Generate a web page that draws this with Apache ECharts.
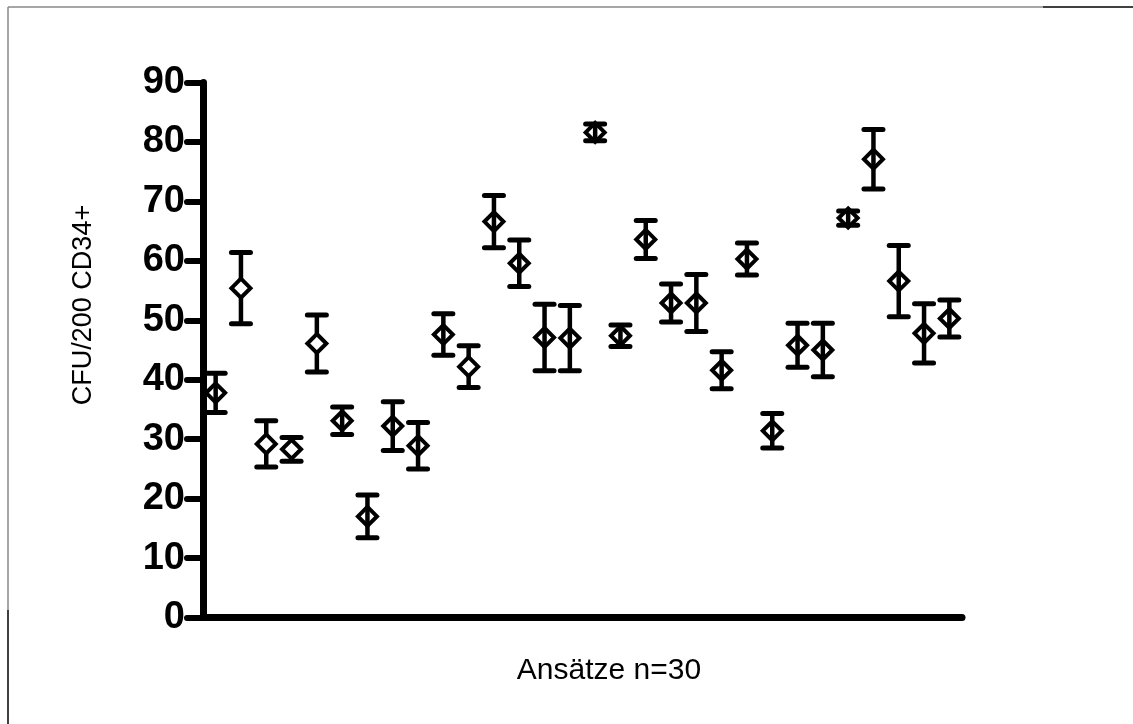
<!DOCTYPE html>
<html>
<head>
<meta charset="utf-8">
<script src="https://cdn.jsdelivr.net/npm/echarts@6/dist/echarts.min.js"></script>
<style>
html,body{margin:0;padding:0;background:#fff;}
#chart{width:1133px;height:724px;}
</style>
</head>
<body>
<div id="chart"></div>
<script>
// Ansätze 1..30
var categories = ['1','2','3','4','5','6','7','8','9','10','11','12','13','14','15','16','17','18','19','20','21','22','23','24','25','26','27','28','29','30'];
// mean CFU/200 CD34+
var means = [37.8,55.4,29.2,28.3,46.1,33.1,17.0,32.2,28.9,47.6,42.2,66.6,59.6,47.1,47.0,81.6,47.4,63.6,52.9,52.9,41.6,60.3,31.4,45.8,45.0,67.2,77.1,56.6,47.8,50.3];
// error (±)
var errors = [3.3,6.0,3.9,2.0,4.8,2.3,3.6,4.1,3.9,3.5,3.5,4.4,3.9,5.6,5.5,1.4,1.8,3.2,3.2,4.8,3.1,2.7,2.9,3.7,4.5,1.2,5.0,6.0,5.0,3.1];
// markers drawn with white interior (error bar hidden inside)
var openMarkers = [0,1,1,1,1,0,0,0,0,0,1,0,0,0,0,0,0,0,0,0,0,0,0,0,0,0,0,0,0,0];
var yTicks = {min:0, max:90, interval:10};

var chart = echarts.init(document.getElementById('chart'));
var FONT = "'Liberation Sans', Arial, Helvetica, sans-serif";

var barData = categories.map(function(c,i){ return [i, means[i], errors[i]]; });
var pointData = categories.map(function(c,i){
  return {value:[i, means[i]], itemStyle:{color: openMarkers[i] ? '#fff' : 'rgba(255,255,255,0)'}};
});

var option = {
  backgroundColor:'#fff',
  animation:false,
  grid:{left:203, right:171, top:82.5, bottom:106.5, containLabel:false},
  xAxis:{
    type:'category', data:categories, boundaryGap:true,
    axisLine:{show:true, lineStyle:{color:'#000', width:7, cap:'round'}},
    axisTick:{show:false}, axisLabel:{show:false}, splitLine:{show:false}
  },
  yAxis:{
    type:'value', min:yTicks.min, max:yTicks.max, interval:yTicks.interval,
    axisLine:{show:true, lineStyle:{color:'#000', width:7, cap:'round'}},
    axisTick:{show:true, length:16, lineStyle:{color:'#000', width:6, cap:'round'}},
    axisLabel:{color:'#000', fontSize:38, fontWeight:'bold', fontFamily:FONT, margin:18},
    splitLine:{show:false}
  },
  graphic:[
    {type:'line', shape:{x1:8,y1:7,x2:1043,y2:7}, style:{stroke:'#888', lineWidth:1.5}, z:100},
    {type:'line', shape:{x1:1043,y1:7,x2:1133,y2:7}, style:{stroke:'#000', lineWidth:1.5}, z:100},
    {type:'line', shape:{x1:8,y1:7,x2:8,y2:610}, style:{stroke:'#888', lineWidth:1.5}, z:100},
    {type:'line', shape:{x1:8,y1:610,x2:8,y2:724}, style:{stroke:'#000', lineWidth:1.5}, z:100},
    {type:'text', x:84, y:305, rotation:Math.PI/2,
      style:{text:'CFU/200 CD34+', fill:'#000', font:'27px '+FONT, align:'center', verticalAlign:'middle'}},
    {type:'text', x:609, y:671,
      style:{text:'Ansätze n=30', fill:'#000', font:'30px '+FONT, align:'center', verticalAlign:'middle'}}
  ],
  series:[
    {
      type:'custom', z:2, clip:false,
      data:barData,
      renderItem:function(params, api){
        var x = api.value(0), m = api.value(1), e = api.value(2);
        var hi = api.coord([x, m+e]);
        var lo = api.coord([x, m-e]);
        var w = 9.5;
        var st = {stroke:'#000', lineWidth:5, lineCap:'round'};
        return {type:'group', children:[
          {type:'line', shape:{x1:hi[0],y1:hi[1],x2:lo[0],y2:lo[1]}, style:{stroke:'#000', lineWidth:4.5}},
          {type:'line', shape:{x1:hi[0]-w,y1:hi[1],x2:hi[0]+w,y2:hi[1]}, style:st},
          {type:'line', shape:{x1:lo[0]-w,y1:lo[1],x2:lo[0]+w,y2:lo[1]}, style:st}
        ]};
      }
    },
    {
      type:'scatter', z:3, clip:false,
      symbol:'diamond', symbolSize:[19,19],
      data:pointData,
      itemStyle:{borderColor:'#000', borderWidth:4, opacity:1}
    }
  ]
};
chart.setOption(option);
</script>
</body>
</html>
